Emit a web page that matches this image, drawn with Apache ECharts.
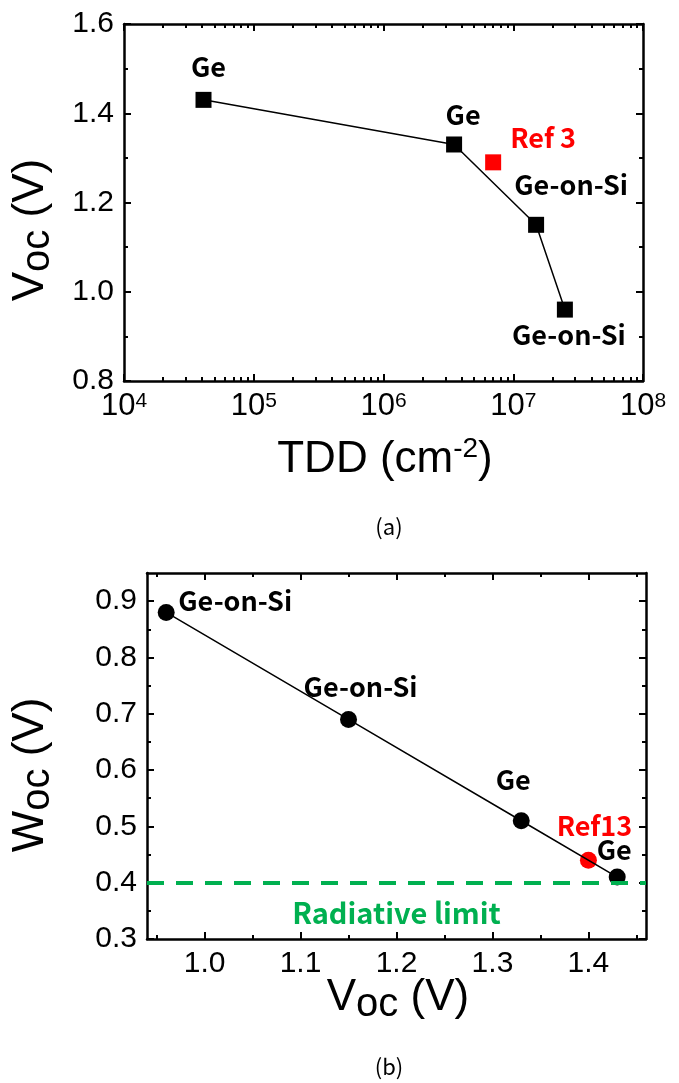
<!DOCTYPE html>
<html>
<head>
<meta charset="utf-8">
<title>Voc vs TDD, Woc vs Voc</title>
<script src="https://cdn.jsdelivr.net/npm/echarts@6/dist/echarts.min.js"></script>
<style>
html, body { margin: 0; padding: 0; background: #fff; }
#main { width: 679px; height: 1083px; }
</style>
</head>
<body>
<div id="main"></div>
<script>
// ---- (a) Voc vs TDD ----
var tddValues = [4.1e4, 3.5e6, 1.5e7, 2.5e7];
var vocValuesA = [1.43, 1.33, 1.15, 0.96];
var namesA = ['Ge', 'Ge', 'Ge-on-Si', 'Ge-on-Si'];
var ref3Point = [7.0e6, 1.29];

// ---- (b) Woc vs Voc ----
var vocValuesB = [0.96, 1.15, 1.33, 1.43];
var wocValuesB = [0.88, 0.69, 0.51, 0.41];
var namesB = ['Ge-on-Si', 'Ge-on-Si', 'Ge', 'Ge'];
var ref13Point = [1.40, 0.44];
var radiativeLimit = 0.4;

// ---- ticks ----
var tddTicks = [1e4, 1e5, 1e6, 1e7, 1e8];
var vocTicksA = [0.8, 1.0, 1.2, 1.4, 1.6];
var vocMinorA = [0.9, 1.1, 1.3, 1.5];
var vocTicksB = [1.0, 1.1, 1.2, 1.3, 1.4];
var vocMinorB = [0.95, 1.05, 1.15, 1.25, 1.35, 1.45];
var wocTicksB = [0.3, 0.4, 0.5, 0.6, 0.7, 0.8, 0.9];
var wocMinorB = [0.35, 0.45, 0.55, 0.65, 0.75, 0.85];

// minor log ticks 2..9 x each decade
var tddMinor = [];
for (var d = 0; d < tddTicks.length - 1; d++) {
	for (var k = 2; k < 10; k++) tddMinor.push(k * tddTicks[d]);
}

// label offsets (px) from each marker centre
var offsetsA = [[5, -33], [9, -30], [35, -40], [4, 25]];
var ref3Offset = [50, -25];
var offsetsB = [[69, -12], [12, -33], [-8, -41], [-3, -27]];
var ref13Offset = [6, -34];

var NUM_FONT = 'Liberation Sans';
var TAG_FONT = 'Noto Sans CJK KR';

// builds a pair of axes (major + minor ticks) on one side of a grid
function boxAxis(grid, pos, type, min, max, major, minor, showLabel, formatter, size) {
	var base = { type: type, gridIndex: grid, position: pos, min: min, max: max, splitLine: { show: false } };
	if (type === 'log') base.logBase = 10;
	size = size || 30;
	var a = echarts.util.merge({
		axisLine: { show: true, onZero: false, lineStyle: { color: '#000', width: 2.5 } },
		axisTick: { show: true, inside: true, length: 7, customValues: major, lineStyle: { color: '#000', width: 2 } },
		axisLabel: {
			show: showLabel, customValues: major, color: '#000', fontSize: size, fontFamily: NUM_FONT, margin: 10,
			formatter: formatter,
			rich: {
				n: { fontSize: size, fontFamily: NUM_FONT, lineHeight: size },
				sup: { fontSize: 21, fontFamily: NUM_FONT, verticalAlign: 'top', lineHeight: 20 }
			}
		}
	}, base, true);
	var b = echarts.util.merge({
		axisLine: { show: false, onZero: false },
		axisTick: { show: true, inside: true, length: 4, customValues: minor, lineStyle: { color: '#000', width: 2 } },
		axisLabel: { show: false }
	}, base, true);
	return [a, b];
}

function oneDec(v) { return v.toFixed(1); }
function pow10(v) { return '{n|10}{sup|' + Math.round(Math.log(v) / Math.LN10) + '}'; }

var xAxes = [].concat(
	boxAxis(0, 'bottom', 'log', 1e4, 1e8, tddTicks, tddMinor, true, pow10, 31), // 0,1
	boxAxis(0, 'top', 'log', 1e4, 1e8, tddTicks, tddMinor, false),              // 2,3
	boxAxis(1, 'bottom', 'value', 0.94, 1.46, vocTicksB, vocMinorB, true, oneDec), // 4,5
	boxAxis(1, 'top', 'value', 0.94, 1.46, vocTicksB, vocMinorB, false)         // 6,7
);
var yAxes = [].concat(
	boxAxis(0, 'left', 'value', 0.8, 1.6, vocTicksA, vocMinorA, true, oneDec),  // 0,1
	boxAxis(0, 'right', 'value', 0.8, 1.6, vocTicksA, vocMinorA, false),        // 2,3
	boxAxis(1, 'left', 'value', 0.3, 0.95, wocTicksB, wocMinorB, true, oneDec), // 4,5
	boxAxis(1, 'right', 'value', 0.3, 0.95, wocTicksB, wocMinorB, false)        // 6,7
);

function items(xs, ys, names, offsets) {
	var out = [];
	xs.forEach(function (x, i) {
		out.push({ value: [x, ys[i]], label: { formatter: names[i], offset: offsets[i] } });
	});
	return out;
}

var tagLabel = {
	show: true, position: 'inside', color: '#000', fontSize: 27, fontWeight: 'bold', fontFamily: TAG_FONT
};
var redLabel = echarts.util.merge({ color: '#ff0000' }, tagLabel);

function vTitle(x, y, letter, rot) {
	return {
		type: 'text', x: x, y: y, rotation: rot,
		style: {
			text: '{v|' + letter + '}{s|oc}{v| (V)}', align: 'center', verticalAlign: 'middle',
			textAlign: 'center', textVerticalAlign: 'middle', fill: '#000',
			rich: {
				v: { fontSize: 44, fontFamily: NUM_FONT, lineHeight: 50, verticalAlign: 'bottom', padding: [0, 0, 5, 0] },
				s: { fontSize: 40, fontFamily: NUM_FONT, lineHeight: 50, verticalAlign: 'bottom' }
			}
		}
	};
}

var myChart = echarts.init(document.getElementById('main'));
var option = {
	animation: false,
	backgroundColor: '#fff',
	grid: [
		{ left: 124, top: 24, width: 519, height: 357 },
		{ left: 147, top: 573, width: 499, height: 366 }
	],
	xAxis: xAxes,
	yAxis: yAxes,
	series: [
		{
			type: 'line', xAxisIndex: 0, yAxisIndex: 0,
			symbol: 'rect', symbolSize: 16,
			itemStyle: { color: '#000', opacity: 1 },
			lineStyle: { color: '#000', width: 1.5 },
			label: tagLabel,
			data: items(tddValues, vocValuesA, namesA, offsetsA)
		},
		{
			type: 'scatter', xAxisIndex: 0, yAxisIndex: 0,
			symbol: 'rect', symbolSize: 16,
			itemStyle: { color: '#ff0000', opacity: 1 },
			label: redLabel,
			data: [{ value: ref3Point, label: { formatter: 'Ref 3', offset: ref3Offset } }]
		},
		{
			type: 'line', xAxisIndex: 4, yAxisIndex: 4,
			symbol: 'circle', symbolSize: 17,
			itemStyle: { color: '#000', opacity: 1 },
			lineStyle: { color: '#000', width: 1.5 },
			label: tagLabel,
			data: items(vocValuesB, wocValuesB, namesB, offsetsB),
			markLine: {
				silent: true, symbol: 'none',
				lineStyle: { color: '#00b050', width: 4, type: [17, 12], opacity: 1 },
				label: {
					show: true, position: 'insideMiddleBottom', distance: 16,
					formatter: 'Radiative limit', color: '#00b050',
					fontSize: 29, fontWeight: 'bold', fontFamily: TAG_FONT
				},
				data: [{ yAxis: radiativeLimit }]
			}
		},
		{
			type: 'scatter', xAxisIndex: 4, yAxisIndex: 4,
			symbol: 'circle', symbolSize: 17,
			itemStyle: { color: '#ff0000', opacity: 1 },
			label: redLabel,
			data: [{ value: ref13Point, label: { formatter: 'Ref13', offset: ref13Offset } }]
		}
	],
	graphic: [
		vTitle(33, 230, 'V', Math.PI / 2),
		vTitle(33, 775, 'W', Math.PI / 2),
		{
			type: 'text', x: 385, y: 460,
			style: {
				text: '{v|TDD (cm}{sup|-2}{v|)}', align: 'center', verticalAlign: 'middle',
				textAlign: 'center', textVerticalAlign: 'middle', fill: '#000',
				rich: {
					v: { fontSize: 44, fontFamily: NUM_FONT, lineHeight: 50 },
					sup: { fontSize: 28, fontFamily: NUM_FONT, lineHeight: 28, verticalAlign: 'top' }
				}
			}
		},
		vTitle(398, 1000, 'V', 0),
		{
			type: 'text', x: 389, y: 527,
			style: { text: '(a)', align: 'center', verticalAlign: 'middle', textAlign: 'center', textVerticalAlign: 'middle', fill: '#000', fontSize: 22, fontFamily: TAG_FONT }
		},
		{
			type: 'text', x: 389, y: 1067,
			style: { text: '(b)', align: 'center', verticalAlign: 'middle', textAlign: 'center', textVerticalAlign: 'middle', fill: '#000', fontSize: 22, fontFamily: TAG_FONT }
		}
	]
};
myChart.setOption(option);
</script>
</body>
</html>
